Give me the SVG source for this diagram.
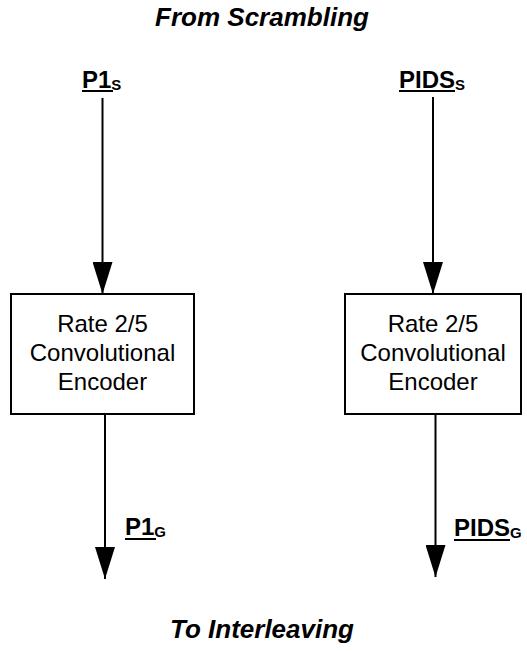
<svg xmlns="http://www.w3.org/2000/svg" width="527" height="651" viewBox="0 0 527 651">
<style>
.box{fill:#fff;stroke:#000;stroke-width:2}
.btxt{font-family:"Liberation Sans",Arial,sans-serif;font-size:24px;text-anchor:middle;fill:#000}
.title{font-family:"Liberation Sans",Arial,sans-serif;font-size:26px;font-weight:bold;font-style:italic;text-anchor:middle;fill:#000}
.lbl{font-family:"Liberation Sans",Arial,sans-serif;font-size:24px;font-weight:bold;fill:#000}
.sub{font-size:15px}
.conn{stroke:#000;stroke-width:2;fill:none;marker-end:url(#ah)}
.ul{stroke:#000;stroke-width:2}
</style>
<defs>
<marker id="ah" viewBox="0 0 32 20" refX="32" refY="10" markerWidth="32" markerHeight="20" markerUnits="userSpaceOnUse" orient="auto">
<path d="M0,0 L32,10 L0,20 z" fill="#000"/>
</marker>
</defs>
<g id="title-top"><text class="title" x="262" y="26">From Scrambling</text></g>
<g id="title-bottom"><text class="title" x="262" y="638">To Interleaving</text></g>
<g id="connectors">
<line class="conn" x1="102.5" y1="98" x2="102.5" y2="294"/>
<line class="conn" x1="433" y1="97" x2="433" y2="294"/>
<line class="conn" x1="105" y1="414" x2="105" y2="579"/>
<line class="conn" x1="435.5" y1="414" x2="435.5" y2="577"/>
</g>
<g id="encoder-left">
<rect class="box" x="11" y="294" width="183" height="120"/>
<text class="btxt" x="102.5" y="332">Rate 2/5</text>
<text class="btxt" x="102.5" y="361">Convolutional</text>
<text class="btxt" x="102.5" y="390">Encoder</text>
</g>
<g id="encoder-right">
<rect class="box" x="345" y="294" width="176" height="120"/>
<text class="btxt" x="433" y="332">Rate 2/5</text>
<text class="btxt" x="433" y="361">Convolutional</text>
<text class="btxt" x="433" y="390">Encoder</text>
</g>
<g id="label-p1s">
<text class="lbl" x="82" y="88">P1<tspan class="sub" dy="2">S</tspan></text>
<line class="ul" x1="82" y1="91" x2="113" y2="91"/>
</g>
<g id="label-pidss">
<text class="lbl" x="399" y="88">PIDS<tspan class="sub" dy="2">S</tspan></text>
<line class="ul" x1="399" y1="91" x2="455" y2="91"/>
</g>
<g id="label-p1g">
<text class="lbl" x="125" y="535">P1<tspan class="sub" dy="2">G</tspan></text>
<line class="ul" x1="125" y1="539" x2="156" y2="539"/>
</g>
<g id="label-pidsg">
<text class="lbl" x="454" y="536">PIDS<tspan class="sub" dy="2">G</tspan></text>
<line class="ul" x1="454" y1="540" x2="510" y2="540"/>
</g>
</svg>
